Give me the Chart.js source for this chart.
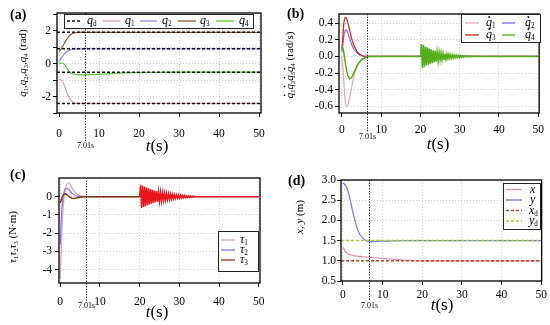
<!DOCTYPE html>
<html>
<head>
<meta charset="utf-8">
<script src="https://cdn.jsdelivr.net/npm/chart.js@4.4.0/dist/chart.umd.min.js"></script>
<style>
  html, body { margin: 0; padding: 0; background: #fff; }
  #wrap { position: relative; width: 550px; height: 325px; overflow: hidden; }
  canvas { position: absolute; }
</style>
</head>
<body>
<div id="wrap">
  <canvas id="ca" width="275" height="162" style="left:0;top:0"></canvas>
  <canvas id="cb" width="275" height="162" style="left:275px;top:0"></canvas>
  <canvas id="cc" width="275" height="163" style="left:0;top:162px"></canvas>
  <canvas id="cd" width="275" height="163" style="left:275px;top:162px"></canvas>
</div>
<script>
// ===== shared =====
const SERIF = "'Liberation Serif', 'Times New Roman', serif";
const X_TICKS = [0, 10, 20, 30, 40, 50];
const T_MARK = 6.5;            // where the dotted line sits in the picture
const T_MARK_LABEL = "7.01s";

// oscillation after the disturbance at t = 20 s
const OSC_T = [20, 20.25, 20.5, 20.75, 21, 21.25, 21.5, 21.75, 22, 22.25, 22.5, 22.75, 23, 23.25, 23.5, 23.75,
  24, 24.25, 24.5, 24.75, 25, 25.25, 25.5, 25.75, 26, 26.25, 26.5, 26.75, 27, 27.25, 27.5, 27.75,
  28, 28.25, 28.5, 28.75, 29, 29.25, 29.5, 29.75, 30, 30.25, 30.5, 30.75, 31, 31.25, 31.5, 31.75,
  32, 32.25, 32.5, 32.75, 33, 33.25, 33.5, 33.75, 34];

// ===== (a) joint angles =====
const A_T = [0, 0.5, 1, 1.5, 2, 2.5, 3, 3.5, 4, 5, 6, 7, 8, 10, 12, 15, 20, 25, 30, 40, 50];
const Q1 = [-0.95, -1.0, -1.15, -1.45, -1.78, -2.05, -2.23, -2.34, -2.4, -2.42, -2.42, -2.42, -2.42, -2.42, -2.42, -2.42, -2.42, -2.42, -2.42, -2.42, -2.42];
const Q2 = [0.12, 0.3, 0.48, 0.62, 0.73, 0.8, 0.85, 0.88, 0.89, 0.9, 0.9, 0.9, 0.9, 0.9, 0.9, 0.9, 0.9, 0.9, 0.9, 0.9, 0.9];
const Q3 = [0.72, 0.88, 1.08, 1.3, 1.5, 1.66, 1.77, 1.84, 1.88, 1.9, 1.9, 1.9, 1.9, 1.9, 1.9, 1.9, 1.9, 1.9, 1.9, 1.9, 1.9];
const Q4 = [0, 0.04, 0.02, -0.1, -0.3, -0.46, -0.57, -0.63, -0.66, -0.68, -0.68, -0.68, -0.67, -0.65, -0.62, -0.58, -0.55, -0.53, -0.52, -0.52, -0.52];
const QD = [1.9, 0.9, -0.52, -2.42];
const A_YTICKS = [-3, -2, -1, 0, 1, 2, 3];

// ===== (b) joint velocities =====
const B_T = [0, 0.25, 0.5, 0.75, 1, 1.25, 1.5, 2, 2.5, 3, 3.5, 4, 5, 6, 7, 10, 20, 50];
const DQ1 = [0, -0.15, -0.32, -0.5, -0.58, -0.6, -0.58, -0.48, -0.36, -0.25, -0.16, -0.1, -0.03, -0.01, 0, 0, 0, 0];
const DQ2 = [0.05, 0.15, 0.25, 0.3, 0.32, 0.31, 0.28, 0.21, 0.14, 0.09, 0.06, 0.035, 0.01, 0, 0, 0, 0, 0];
const DQ3 = [0.08, 0.25, 0.4, 0.46, 0.47, 0.45, 0.41, 0.31, 0.21, 0.14, 0.09, 0.05, 0.015, 0, 0, 0, 0, 0];
const DQ4 = [0.12, 0.1, 0.04, -0.04, -0.12, -0.18, -0.23, -0.27, -0.25, -0.2, -0.15, -0.1, -0.04, -0.01, 0, 0, 0, 0];
const DQ4_OSC = [0, 0.15, -0.14, 0.14, -0.13, 0.12, -0.11, 0.11, -0.1, 0.095, -0.09, 0.085, -0.08, 0.075, -0.07, 0.066,
  -0.062, 0.058, -0.054, 0.05, -0.047, 0.044, -0.041, 0.038, -0.035, 0.033, -0.031, 0.029, -0.027, 0.025, -0.023, 0.021,
  -0.02, 0.018, -0.017, 0.016, -0.015, 0.014, -0.013, 0.012, -0.011, 0.01, -0.009, 0.008, -0.008, 0.007, -0.006, 0.006,
  -0.005, 0.005, -0.004, 0.004, -0.003, 0.003, -0.002, 0.002, 0];
const B_YTICKS = [-0.6, -0.4, -0.2, 0, 0.2, 0.4];

// ===== (c) torques =====
const C_T = [0, 0.25, 0.5, 0.75, 1, 1.25, 1.5, 2, 2.5, 3, 3.5, 4, 5, 6, 7, 10, 20, 50];
const TAU1 = [-4.5, -3.0, -1.6, -0.6, 0, 0.35, 0.58, 0.76, 0.68, 0.48, 0.3, 0.17, 0.05, 0.01, 0, 0, 0, 0];
const TAU2 = [-2.6, -1.4, -0.5, 0, 0.25, 0.4, 0.46, 0.42, 0.3, 0.18, 0.1, 0.05, 0.01, 0, 0, 0, 0, 0];
const TAU3 = [-0.35, -0.2, -0.02, 0.08, 0.13, 0.15, 0.13, 0.04, -0.04, -0.09, -0.1, -0.08, -0.03, -0.01, 0, 0, 0, 0];
const TAU3_OSC = [0, 0.65, -0.62, 0.6, -0.57, 0.55, -0.52, 0.5, -0.47, 0.45, -0.43, 0.41, -0.39, 0.37, -0.35, 0.33,
  -0.31, 0.3, -0.28, 0.27, -0.25, 0.24, -0.23, 0.21, -0.2, 0.19, -0.18, 0.17, -0.16, 0.15, -0.14, 0.135,
  -0.13, 0.12, -0.115, 0.11, -0.1, 0.095, -0.09, 0.085, -0.08, 0.075, -0.07, 0.065, -0.06, 0.057, -0.054, 0.05,
  -0.047, 0.044, -0.04, 0.037, -0.034, 0.03, -0.027, 0.024, 0];
const C_YTICKS = [-4, -3, -2, -1, 0];

// ===== (d) end-effector position =====
const D_T = [0, 0.5, 1, 1.5, 2, 2.5, 3, 3.5, 4, 4.5, 5, 5.5, 6, 7, 8, 10, 12, 15, 17, 20, 30, 50];
const Y_POS = [2.93, 2.88, 2.8, 2.64, 2.43, 2.2, 2.0, 1.83, 1.7, 1.62, 1.56, 1.52, 1.49, 1.47, 1.475, 1.485, 1.49, 1.5, 1.5, 1.5, 1.5, 1.5];
const X_POS = [1.34, 1.24, 1.19, 1.16, 1.15, 1.13, 1.12, 1.115, 1.11, 1.11, 1.1, 1.095, 1.09, 1.085, 1.075, 1.06, 1.045, 1.02, 1.01, 1.0, 1.0, 1.0];
const XD = 1.0, YD = 1.5;
const D_YTICKS = [0.5, 1, 1.5, 2, 2.5, 3];

// ===== helpers =====
const pts = (ts, vs) => ts.map((t, i) => ({ x: t, y: vs[i] }));
const flat = (v, x0, x1) => [{ x: x0, y: v }, { x: x1, y: v }];
function withOsc(ts, vs, ots, ovs) {
  const t0 = ots[0], t1 = ots[ots.length - 1];
  return [...pts(ts, vs).filter(p => p.x < t0 || p.x > t1), ...pts(ots, ovs)].sort((a, b) => a.x - b.x);
}

// rich text: segs = [{t, i (italic), s (subscript), d (dot)}]
function rich(ctx, segs, x, y, size, align) {
  const fnt = s => (s.i ? "italic " : "") + (s.s ? size * 0.6 : size) + "px " + SERIF;
  let total = 0;
  const ws = segs.map(s => { ctx.font = fnt(s); const w = ctx.measureText(s.t).width; total += w; return w; });
  let cx = align === "left" ? x : x - total / 2;
  ctx.textAlign = "left"; ctx.textBaseline = "middle";
  segs.forEach((s, k) => {
    ctx.font = fnt(s);
    ctx.fillText(s.t, cx, s.s ? y + size * 0.3 : y);
    if (s.d) {
      ctx.beginPath();
      ctx.arc(cx + ws[k] * 0.55, y - size * 0.5, size * 0.075, 0, Math.PI * 2);
      ctx.fill();
    }
    cx += ws[k];
  });
}
const sym = (b, sub, dot) => [{ t: b, i: 1, d: dot }, { t: sub, s: 1 }];

function decor(spec) {
  return {
    id: "decor",
    afterDraw(chart) {
      const ctx = chart.ctx, a = chart.chartArea, xs = chart.scales.x;
      ctx.save();
      ctx.strokeStyle = "#000"; ctx.fillStyle = "#000";
      ctx.lineWidth = 1.3;
      ctx.strokeRect(a.left, a.top, a.right - a.left, a.bottom - a.top);

      // dotted time marker
      const mx = Math.round(xs.getPixelForValue(T_MARK)) + 0.5;
      ctx.lineWidth = 1; ctx.setLineDash([1.2, 1.5]);
      ctx.beginPath(); ctx.moveTo(mx, a.top); ctx.lineTo(mx, spec.markEnd); ctx.stroke();
      ctx.setLineDash([]);
      ctx.font = "8px " + SERIF; ctx.textAlign = "center"; ctx.textBaseline = "middle";
      ctx.fillText(T_MARK_LABEL, mx, spec.markLabelY);

      rich(ctx, [{ t: "t", i: 1 }, { t: "(s)" }], spec.tsX, spec.tsY, 17);

      ctx.font = "bold 14px " + SERIF; ctx.textAlign = "left"; ctx.textBaseline = "middle";
      ctx.fillText(spec.tag, spec.tagX, spec.tagY);

      ctx.save();
      ctx.translate(spec.ytX, spec.ytY); ctx.rotate(-Math.PI / 2);
      rich(ctx, spec.ytitle, 0, 0, 11);
      ctx.restore();

      // legend box
      const L = spec.legend;
      ctx.fillStyle = "#fff"; ctx.fillRect(L.x, L.y, L.w, L.h);
      ctx.strokeStyle = "#222"; ctx.lineWidth = 1;
      ctx.strokeRect(L.x + 0.5, L.y + 0.5, L.w, L.h);
      L.items.forEach(it => {
        ctx.strokeStyle = it.color; ctx.lineWidth = it.dash ? 1.6 : 1.3;
        ctx.setLineDash(it.dash || []);
        ctx.beginPath(); ctx.moveTo(it.x0, it.y); ctx.lineTo(it.x1, it.y); ctx.stroke();
        ctx.setLineDash([]);
        ctx.fillStyle = "#000";
        rich(ctx, it.segs, it.tx, it.y, L.fs, "left");
      });
      ctx.restore();
    }
  };
}

function panel(id, spec, datasets) {
  const cv = document.getElementById(id);
  const W = cv.width, H = cv.height, ar = spec.area;
  const font = { family: SERIF, size: 11.5 };
  const grid = { color: "#d2d2d2", lineWidth: 1, tickLength: 4, tickColor: "#000", tickBorderDash: [], tickWidth: 1 };
  const border = { display: false, dash: [1, 2] };
  return new Chart(cv, {
    type: "line",
    data: { datasets },
    options: {
      responsive: false,
      animation: false,
      layout: { padding: { left: 0, top: ar.t, right: W - ar.r, bottom: 0 } },
      plugins: { legend: { display: false }, tooltip: { enabled: false } },
      elements: { point: { radius: 0 }, line: { borderWidth: 1.2, cubicInterpolationMode: "monotone" } },
      scales: {
        x: {
          type: "linear", min: spec.xMin, max: spec.xMax,
          afterFit: s => { s.height = H - ar.b; },
          afterBuildTicks: s => { s.ticks = X_TICKS.map(v => ({ value: v })); },
          ticks: { font, color: "#000", padding: spec.xPad, maxRotation: 0, autoSkip: false },
          grid, border
        },
        y: {
          type: "linear", min: spec.yMin, max: spec.yMax,
          afterFit: s => { s.width = ar.l; },
          afterBuildTicks: s => { s.ticks = spec.yTicks.map(v => ({ value: v })); },
          ticks: { font, color: "#000", padding: spec.yPad, callback: spec.yFmt, autoSkip: false },
          grid, border
        }
      }
    },
    plugins: [decor(spec)]
  });
}

const ln = (data, color, extra) => Object.assign({ data, borderColor: color, fill: false }, extra || {});

// ----- (a) -----
const A_COL = { qd: "#111", q1: "#d4a2ab", q2: "#8d8ce8", q3: "#9a5530", q4: "#5cc23a" };
panel("ca", {
  area: { l: 57, t: 13, r: 261, b: 113 }, xMin: -0.5, xMax: 50.5, yMin: -3.0, yMax: 3.07,
  yTicks: A_YTICKS, yFmt: v => (v % 2 === 0 ? String(v) : ""), xPad: 10, yPad: 2,
  markEnd: 141, markLabelY: 146, tsX: 157, tsY: 147, tag: "(a)", tagX: 10, tagY: 15,
  ytX: 23, ytY: 63,
  ytitle: [...sym("q", "1"), { t: "," }, ...sym("q", "2"), { t: "," }, ...sym("q", "3"), { t: "," }, ...sym("q", "4"), { t: " (rad)" }],
  legend: {
    x: 64, y: 14, w: 189, h: 14, fs: 12,
    items: [
      { segs: sym("q", "d"), color: A_COL.qd, dash: [3, 2], x0: 67, x1: 82, tx: 87, y: 21 },
      { segs: sym("q", "1"), color: A_COL.q1, x0: 103, x1: 120, tx: 125, y: 21 },
      { segs: sym("q", "2"), color: A_COL.q2, x0: 140, x1: 157, tx: 162, y: 21 },
      { segs: sym("q", "3"), color: A_COL.q3, x0: 178, x1: 196, tx: 200, y: 21 },
      { segs: sym("q", "4"), color: A_COL.q4, x0: 216, x1: 234, tx: 239, y: 21 }
    ]
  }
}, [
  ...QD.map(v => ln(flat(v, -0.5, 50.5), A_COL.qd, { borderDash: [3, 2], borderWidth: 1.5 })),
  ln(pts(A_T, Q1), A_COL.q1),
  ln(pts(A_T, Q2), A_COL.q2),
  ln(pts(A_T, Q3), A_COL.q3),
  ln(pts(A_T, Q4), A_COL.q4)
]);

// ----- (b) -----
const B_COL = { d1: "#e0a4c0", d2: "#7c6ef0", d3: "#c2281c", d4: "#55ad1c" };
panel("cb", {
  area: { l: 64, t: 14, r: 267, b: 113 }, xMin: -0.75, xMax: 50.25, yMin: -0.68, yMax: 0.51,
  yTicks: B_YTICKS, yFmt: v => v.toFixed(1), xPad: 6, yPad: 2,
  markEnd: 132, markLabelY: 137, tsX: 163, tsY: 145, tag: "(b)", tagX: 12, tagY: 14,
  ytX: 15, ytY: 65,
  ytitle: [...sym("q", "1", 1), ...sym("q", "2", 1), ...sym("q", "3", 1), ...sym("q", "4", 1), { t: " (rad/s)" }],
  legend: {
    x: 186, y: 14, w: 79, h: 28, fs: 12,
    items: [
      { segs: sym("q", "1", 1), color: B_COL.d1, x0: 190, x1: 204, tx: 211, y: 23 },
      { segs: sym("q", "2", 1), color: B_COL.d2, x0: 227, x1: 240, tx: 250, y: 23 },
      { segs: sym("q", "3", 1), color: B_COL.d3, x0: 190, x1: 204, tx: 211, y: 35 },
      { segs: sym("q", "4", 1), color: B_COL.d4, x0: 227, x1: 240, tx: 250, y: 35 }
    ]
  }
}, [
  ln(withOsc(B_T, DQ4, OSC_T, DQ4_OSC), B_COL.d4, { cubicInterpolationMode: "default", tension: 0, borderWidth: 1.5 }),
  ln(pts(B_T, DQ3), B_COL.d3),
  ln(pts(B_T, DQ2), B_COL.d2),
  ln(pts(B_T, DQ1), B_COL.d1)
]);

// ----- (c) -----
const C_COL = { t1: "#d9a2c8", t2: "#8a6ee8", t3: "#7a3c12", osc: "#e8161c" };
panel("cc", {
  area: { l: 59, t: 16, r: 260, b: 121 }, xMin: -0.3, xMax: 50.3, yMin: -4.73, yMax: 1.02,
  yTicks: C_YTICKS, yFmt: v => String(v), xPad: 8, yPad: 3,
  markEnd: 139, markLabelY: 144, tsX: 157, tsY: 151, tag: "(c)", tagX: 10, tagY: 13,
  ytX: 13, ytY: 75,
  ytitle: [...sym("τ", "1"), ...sym("τ", "2"), ...sym("τ", "3"), { t: " (N·m)" }],
  legend: {
    x: 218, y: 69, w: 40, h: 40, fs: 12,
    items: [
      { segs: sym("τ", "1"), color: C_COL.t1, x0: 221, x1: 235, tx: 240, y: 78 },
      { segs: sym("τ", "2"), color: C_COL.t2, x0: 221, x1: 235, tx: 240, y: 88 },
      { segs: sym("τ", "3"), color: C_COL.t3, x0: 221, x1: 235, tx: 240, y: 98 }
    ]
  }
}, [
  ln(withOsc(C_T, TAU3, OSC_T, TAU3_OSC), C_COL.t3, {
    cubicInterpolationMode: "default", tension: 0, borderWidth: 1.5,
    segment: { borderColor: c => (c.p0.parsed.x >= OSC_T[0] ? C_COL.osc : undefined) }
  }),
  ln(pts(C_T, TAU2), C_COL.t2),
  ln(pts(C_T, TAU1), C_COL.t1)
]);

// ----- (d) -----
const D_COL = { x: "#d890b0", y: "#7a74e0", xd: "#b2452a", yd: "#a4cc3c" };
panel("cd", {
  area: { l: 66, t: 18, r: 268, b: 119 }, xMin: -0.5, xMax: 50.1, yMin: 0.5, yMax: 3.0,
  yTicks: D_YTICKS, yFmt: v => v.toFixed(1), xPad: 3, yPad: 1,
  markEnd: 139, markLabelY: 144, tsX: 167, tsY: 144, tag: "(d)", tagX: 13, tagY: 19,
  ytX: 25, ytY: 55,
  ytitle: [{ t: "x", i: 1 }, { t: ", " }, { t: "y", i: 1 }, { t: " (m)" }],
  legend: {
    x: 228, y: 21, w: 37, h: 46, fs: 12,
    items: [
      { segs: [{ t: "x", i: 1 }], color: D_COL.x, x0: 231, x1: 247, tx: 255, y: 27.5 },
      { segs: [{ t: "y", i: 1 }], color: D_COL.y, x0: 231, x1: 247, tx: 255, y: 38 },
      { segs: sym("x", "d"), color: D_COL.xd, dash: [3, 2], x0: 231, x1: 247, tx: 254, y: 48.5 },
      { segs: sym("y", "d"), color: D_COL.yd, dash: [3, 2], x0: 231, x1: 247, tx: 254, y: 59 }
    ]
  }
}, [
  ln(flat(XD, -0.5, 50.1), D_COL.xd, { borderDash: [3, 2], borderWidth: 1.5 }),
  ln(flat(YD, -0.5, 50.1), D_COL.yd, { borderDash: [3, 2], borderWidth: 1.5 }),
  ln(pts(D_T, X_POS), D_COL.x),
  ln(pts(D_T, Y_POS), D_COL.y)
]);
</script>
</body>
</html>
